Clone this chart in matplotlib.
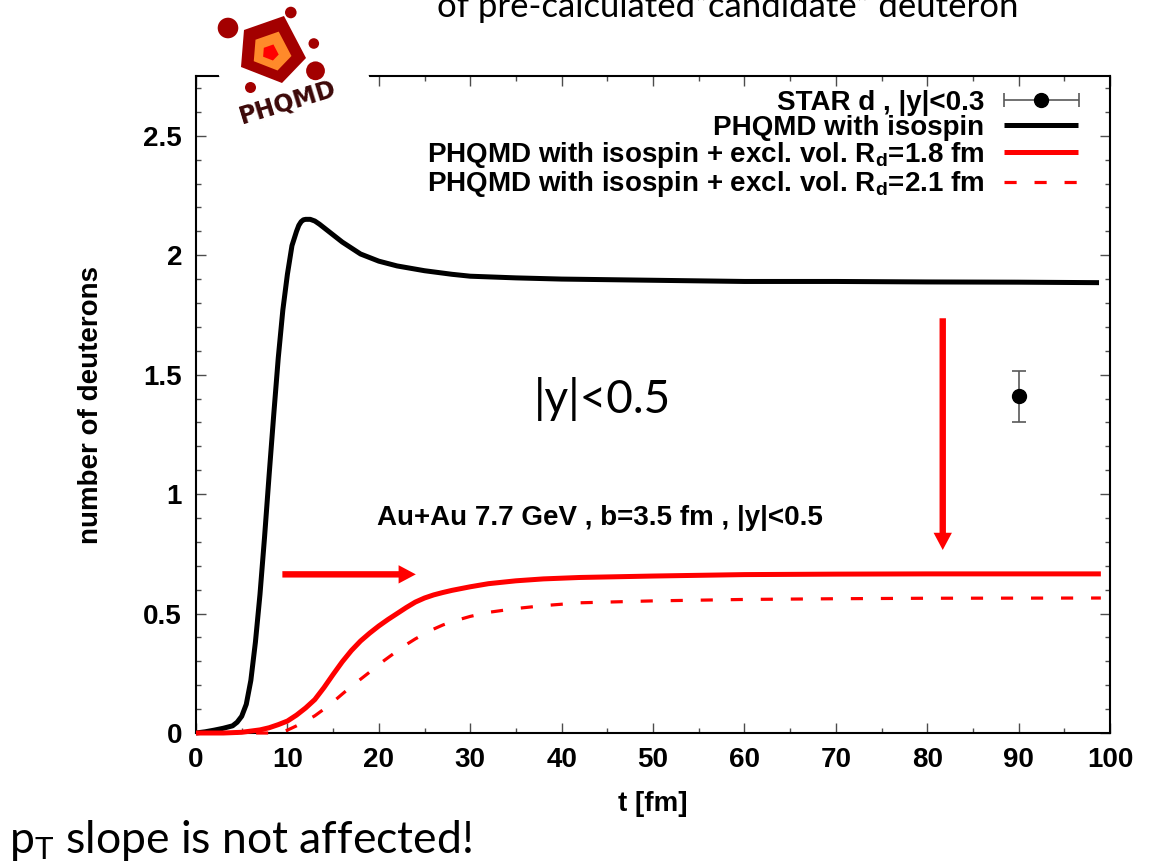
import numpy as np
import matplotlib
matplotlib.use("Agg")
import matplotlib.pyplot as plt
from matplotlib.patches import Polygon, Ellipse
from matplotlib.legend_handler import HandlerErrorbar
from matplotlib.container import ErrorbarContainer
from matplotlib.ticker import MultipleLocator, FuncFormatter

plt.rcParams['font.family'] = ['Liberation Sans', 'DejaVu Sans']
plt.rcParams['font.weight'] = 'bold'
plt.rcParams['font.size'] = 20
plt.rcParams['axes.labelweight'] = 'bold'
plt.rcParams['mathtext.fontset'] = 'custom'
plt.rcParams['mathtext.rm'] = 'Lato:weight=normal'
plt.rcParams['mathtext.it'] = 'Lato:italic'
plt.rcParams['mathtext.bf'] = 'Liberation Sans:bold'

# ---- data -------------------------------------------------------------
# PHQMD with isospin
t_iso = [0, 1, 2, 3, 4, 4.5, 5, 5.5, 6, 6.5, 7, 7.5, 8, 8.5, 9, 9.5, 10,
         10.5, 11, 11.25, 11.5, 11.75, 12, 12.5, 13, 13.5, 14, 15, 16, 17,
         18, 20, 22, 25, 28, 30, 35, 40, 50, 60, 70, 80, 90, 98.8]
n_iso = [0.0, 0.005, 0.012, 0.02, 0.03, 0.045, 0.07, 0.12, 0.22, 0.38, 0.58,
         0.82, 1.08, 1.33, 1.57, 1.77, 1.92, 2.04, 2.10, 2.125, 2.14, 2.148,
         2.15, 2.15, 2.143, 2.13, 2.115, 2.085, 2.055, 2.03, 2.005, 1.975,
         1.955, 1.935, 1.92, 1.912, 1.905, 1.90, 1.895, 1.89, 1.89, 1.888,
         1.887, 1.885]

# PHQMD with isospin + excluded volume, R_d = 1.8 fm
t_ex18 = [0, 3, 5, 6, 7, 8, 9, 10, 11, 12, 13, 14, 15, 16, 17, 18, 19, 20,
          21, 22, 23, 24, 25, 26, 27, 28, 30, 32, 35, 38, 42, 50, 60, 70,
          80, 90, 99]
n_ex18 = [0.0, 0.0, 0.003, 0.008, 0.013, 0.022, 0.035, 0.05, 0.075, 0.105,
          0.14, 0.19, 0.245, 0.298, 0.345, 0.385, 0.418, 0.448, 0.475, 0.50,
          0.525, 0.548, 0.565, 0.578, 0.588, 0.597, 0.612, 0.625, 0.637,
          0.645, 0.651, 0.657, 0.663, 0.665, 0.666, 0.666, 0.666]

# PHQMD with isospin + excluded volume, R_d = 2.1 fm
t_ex21 = [0, 9, 10, 11, 12, 13, 14, 15, 16, 17, 18, 19, 20, 21, 22, 23, 24,
          25, 26, 27, 28, 30, 32, 35, 38, 42, 50, 60, 70, 80, 99]
n_ex21 = [0.0, 0.0, 0.012, 0.03, 0.05, 0.072, 0.10, 0.13, 0.163, 0.195,
          0.225, 0.255, 0.287, 0.315, 0.343, 0.370, 0.394, 0.415, 0.435,
          0.452, 0.466, 0.488, 0.505, 0.521, 0.533, 0.545, 0.553, 0.559,
          0.562, 0.564, 0.565]

# STAR measurement
star_t = [90.0]
star_n = [1.41]
star_err = [0.107]

legend_labels = [
    'STAR d , |y|<0.3',
    'PHQMD with isospin',
    r'PHQMD with isospin + excl. vol. R$_\mathbf{d}$=1.8 fm',
    r'PHQMD with isospin + excl. vol. R$_\mathbf{d}$=2.1 fm',
]

# ---- figure -----------------------------------------------------------
W, H = 1162, 861
fig = plt.figure(figsize=(W / 100, H / 100), dpi=100)
fig.patch.set_facecolor('white')
ax = fig.add_axes([196 / W, 1 - 733 / H, (1110 - 196) / W, (733 - 76) / H])

ln_iso, = ax.plot(t_iso, n_iso, color='black', lw=3.6, zorder=3,
                  solid_capstyle='butt', solid_joinstyle='round', clip_on=False)
ln_18, = ax.plot(t_ex18, n_ex18, color='#ff0000', lw=3.6, zorder=4,
                 solid_capstyle='butt', solid_joinstyle='round', clip_on=False)
ln_21, = ax.plot(t_ex21, n_ex21, color='#ff0000', lw=2.3, zorder=4,
                 dashes=(3.8, 5.6), clip_on=False)

ax.errorbar(star_t, star_n, yerr=star_err, fmt='o', color='black', ms=10,
            ecolor='0.35', elinewidth=1.2, capsize=5, capthick=1.2, zorder=5)
star_key = ax.errorbar([np.nan], [np.nan], xerr=[1.0], fmt='o', color='black',
                       ms=10, ecolor='0.35', elinewidth=1.2, capsize=5,
                       capthick=1.2)

ax.set_xlim(0, 100)
ax.set_ylim(0, 2.75)
ax.xaxis.set_major_locator(MultipleLocator(10))
ax.xaxis.set_minor_locator(MultipleLocator(5))
ax.yaxis.set_major_locator(MultipleLocator(0.5))
ax.yaxis.set_minor_locator(MultipleLocator(0.1))
ax.yaxis.set_major_formatter(FuncFormatter(lambda v, _: f'{v:g}'))
ax.tick_params(which='both', direction='in', top=True, right=True,
               color='0.3', width=1.0, labelsize=20)
ax.tick_params(which='major', length=7.2, pad=10)
ax.tick_params(which='minor', length=3.6)
for sp in ax.spines.values():
    sp.set_linewidth(1.5)

ax.set_xlabel('t [fm]', fontsize=20, fontweight='bold', labelpad=13)
ax.set_ylabel('number of deuterons', fontsize=20, fontweight='bold',
              labelpad=28)

# arrows
arrow_kw = dict(arrowstyle='simple,head_length=0.62,head_width=0.66,tail_width=0.23',
                color='#ff0000', lw=0, shrinkA=0, shrinkB=0, mutation_scale=20)
ax.annotate('', xy=(24.05, 0.664), xytext=(9.45, 0.664), arrowprops=arrow_kw)
ax.annotate('', xy=(81.7, 0.766), xytext=(81.7, 1.736), arrowprops=arrow_kw)

ax.text(19.8, 0.90, 'Au+Au 7.7 GeV , b=3.5 fm , |y|<0.5', fontsize=20,
        ha='left', va='center')
ax.text(37.0, 1.40, '|y|<0.5', family='Lato', fontweight='normal',
        fontsize=33, ha='left', va='center')

leg = ax.legend([star_key, ln_iso, ln_18, ln_21], legend_labels,
                loc='upper right', bbox_to_anchor=(0.965, 0.979),
                frameon=False, markerfirst=False, handlelength=2.66,
                handletextpad=0.72, labelspacing=-0.03, borderpad=0,
                borderaxespad=0,
                handler_map={ErrorbarContainer: HandlerErrorbar(xerr_size=1.35)},
                prop=dict(family='Liberation Sans', weight='bold', size=20))

# ---- PHQMD logo ---------------------------------------------------------
def fx(x):
    return x / W


def fy(y):
    return 1 - y / H


def add_poly(pts, color):
    fig.add_artist(Polygon([(fx(x), fy(y)) for x, y in pts], closed=True,
                           transform=fig.transFigure, facecolor=color,
                           edgecolor='none', zorder=5))


def add_dot(cx, cy, r, color):
    fig.add_artist(Ellipse((fx(cx), fy(cy)), 2 * r / W, 2 * r / H,
                           transform=fig.transFigure, facecolor=color,
                           edgecolor='none', zorder=6))


ang = np.deg2rad(16)
cx, cy, h = 290, 62, 72
box = []
for sx, sy in [(-1, -1), (1, -1), (1, 1), (-1, 1)]:
    xr = sx * h * np.cos(ang) - sy * h * np.sin(ang)
    yr = sx * h * np.sin(ang) + sy * h * np.cos(ang)
    box.append((cx + xr, cy - yr))
add_poly(box, 'white')

outer = np.array([(244, 30), (284, 16), (306, 58), (282, 83), (241, 67)], float)
centre = outer.mean(axis=0)
add_poly(outer, '#a30000')
add_poly(centre + 0.58 * (outer - centre) + [0, 1], '#ff8a2a')
add_poly(centre + 0.24 * (outer - centre) + [-1, 2], '#ff0000')

for (px, py, r) in [(228, 28, 10.3), (290.8, 12.5, 5.8), (313.8, 43.5, 5.3),
                    (315.5, 70.8, 9.4), (250.5, 87.5, 5.5)]:
    add_dot(px, py, r, '#a30000')

fig.text(fx(288), fy(102), 'PHQMD', rotation=17, ha='center', va='center',
         rotation_mode='anchor', color='#3c0808', fontsize=17,
         family='DejaVu Sans', fontweight='bold', zorder=7)

# ---- slide text ---------------------------------------------------------
fig.text(fx(437), fy(17), 'of pre-calculated\u201ccandidate\u201d deuteron',
         family='Lato', fontweight='normal', fontsize=25, va='baseline',
         ha='left')
fig.text(fx(9), fy(853), r'p$_\mathrm{T}$ slope is not affected!',
         family='Lato', fontweight='normal', fontsize=32, va='baseline',
         ha='left')

fig.savefig('out.png', dpi=100)
